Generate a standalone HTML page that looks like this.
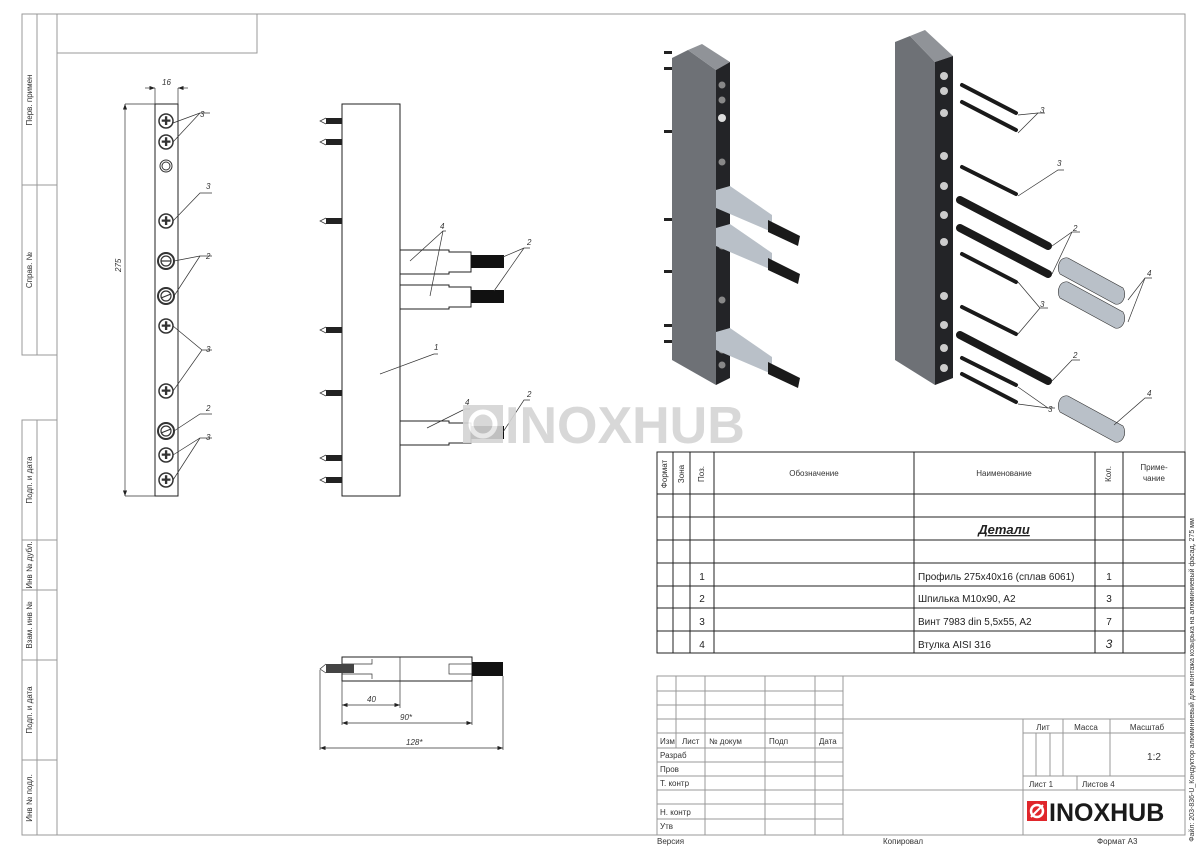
<!DOCTYPE html>
<html><head><meta charset="utf-8"><style>
html,body{margin:0;padding:0;background:#fff;}
svg{display:block;font-family:"Liberation Sans","DejaVu Sans",sans-serif;}
.t{font-size:8px;fill:#333;}
.l{stroke:#999;stroke-width:1;fill:none;}
.k{stroke:#222;stroke-width:1;fill:none;}
.d{stroke:#333;stroke-width:0.7;fill:none;}
</style></head><body>
<svg width="1200" height="848" viewBox="0 0 1200 848" xmlns="http://www.w3.org/2000/svg">
<defs>
<marker id="a" markerWidth="8" markerHeight="6" refX="8" refY="3" orient="auto-start-reverse"><path d="M0,0 L8,3 L0,6z" fill="#222"/></marker>
</defs>
<!-- frame -->
<rect x="57" y="14" width="1128" height="821" class="l"/>
<rect x="57" y="14" width="200" height="39" class="l"/>
<g class="l">
<rect x="22" y="14" width="35" height="341"/><line x1="37" y1="14" x2="37" y2="355"/><line x1="22" y1="185" x2="57" y2="185"/>
<rect x="22" y="420" width="35" height="415"/><line x1="37" y1="420" x2="37" y2="835"/>
<line x1="22" y1="540" x2="57" y2="540"/><line x1="22" y1="590" x2="57" y2="590"/><line x1="22" y1="660" x2="57" y2="660"/><line x1="22" y1="760" x2="57" y2="760"/>
</g>
<g class="t" font-size="7">
<text transform="translate(32,100) rotate(-90)" text-anchor="middle">Перв. примен</text>
<text transform="translate(32,270) rotate(-90)" text-anchor="middle">Справ. №</text>
<text transform="translate(32,480) rotate(-90)" text-anchor="middle">Подп. и дата</text>
<text transform="translate(32,565) rotate(-90)" text-anchor="middle">Инв № дубл.</text>
<text transform="translate(32,625) rotate(-90)" text-anchor="middle">Взам. инв №</text>
<text transform="translate(32,710) rotate(-90)" text-anchor="middle">Подп. и дата</text>
<text transform="translate(32,798) rotate(-90)" text-anchor="middle">Инв № подл.</text>
<text transform="translate(1194,680) rotate(-90)" text-anchor="middle" font-size="7">Файл: 203-836-U_Кондуктор алюминиевый для монтажа козырька на алюминиевый фасад, 275 мм</text>
</g>

<!-- front view -->
<rect x="155" y="104" width="23" height="392" class="k"/>
<line x1="125" y1="104" x2="155" y2="104" class="d"/><line x1="125" y1="496" x2="155" y2="496" class="d"/>
<line x1="125" y1="104" x2="125" y2="496" class="d" marker-start="url(#a)" marker-end="url(#a)"/>
<text x="121" y="272" class="t" font-size="10" transform="rotate(-90 121 272)" font-style="italic">275</text>
<line x1="155" y1="88" x2="155" y2="104" class="d"/><line x1="178" y1="88" x2="178" y2="104" class="d"/>
<line x1="145" y1="88" x2="155" y2="88" class="d" marker-end="url(#a)"/><line x1="188" y1="88" x2="178" y2="88" class="d" marker-end="url(#a)"/>
<text x="162" y="85" class="t" font-style="italic">16</text>
<g stroke="#333" fill="none">
<g stroke-width="1.5"><circle cx="166" cy="121" r="7"/><circle cx="166" cy="142" r="7"/><circle cx="166" cy="221" r="7"/><circle cx="166" cy="326" r="7"/><circle cx="166" cy="391" r="7"/><circle cx="166" cy="455" r="7"/><circle cx="166" cy="480" r="7"/></g>
<circle cx="166" cy="166" r="6"/><circle cx="166" cy="166" r="4"/>
<g stroke-width="2"><circle cx="166" cy="261" r="8"/><circle cx="166" cy="296" r="8"/><circle cx="166" cy="431" r="8"/></g>
<g stroke-width="1.2"><circle cx="166" cy="261" r="5"/><circle cx="166" cy="296" r="5"/><circle cx="166" cy="431" r="5"/>
<line x1="161" y1="261" x2="171" y2="261"/><line x1="161" y1="298" x2="171" y2="294"/><line x1="161" y1="433" x2="171" y2="429"/></g>
</g>
<g font-size="12" fill="#333" text-anchor="middle">
<text x="166" y="125">✚</text><text x="166" y="146">✚</text><text x="166" y="225">✚</text><text x="166" y="330">✚</text><text x="166" y="395">✚</text><text x="166" y="459">✚</text><text x="166" y="484">✚</text>
</g>
<g class="d">
<polyline points="173,123 200,113 210,113"/><line x1="173" y1="142" x2="200" y2="113"/>
<polyline points="173,221 200,193 212,193"/>
<polyline points="174,261 200,256 212,256"/><line x1="174" y1="296" x2="200" y2="256"/>
<polyline points="173,326 202,350 212,350"/><line x1="173" y1="391" x2="202" y2="350"/>
<polyline points="174,431 200,414 212,414"/>
<polyline points="173,455 200,438 212,438"/><line x1="173" y1="480" x2="200" y2="438"/>
</g>
<g class="t" font-size="10" font-style="italic">
<text x="200" y="117">3</text><text x="206" y="189">3</text><text x="206" y="259">2</text><text x="206" y="352">3</text><text x="206" y="411">2</text><text x="206" y="440">3</text>
</g>

<!-- side view -->
<rect x="342" y="104" width="58" height="392" class="k"/>
<g fill="#222">
<rect x="326" y="118" width="16" height="6"/><rect x="326" y="139" width="16" height="6"/><rect x="326" y="218" width="16" height="6"/><rect x="326" y="327" width="16" height="6"/><rect x="326" y="390" width="16" height="6"/><rect x="326" y="455" width="16" height="6"/><rect x="326" y="477" width="16" height="6"/>
</g>
<g class="d"><path d="M326,118 l-6,3 6,3"/><path d="M326,139 l-6,3 6,3"/><path d="M326,218 l-6,3 6,3"/><path d="M326,327 l-6,3 6,3"/><path d="M326,390 l-6,3 6,3"/><path d="M326,455 l-6,3 6,3"/><path d="M326,477 l-6,3 6,3"/></g>
<g class="k" stroke-width="0.8">
<path d="M400,250 h49 v2 h22 v20 h-22 v2 h-49"/>
<path d="M400,285 h49 v2 h22 v20 h-22 v2 h-49"/>
<path d="M400,421 h49 v2 h22 v20 h-22 v2 h-49"/>
</g>
<g fill="#111"><rect x="471" y="255" width="33" height="13"/><rect x="471" y="290" width="33" height="13"/><rect x="471" y="426" width="33" height="13"/></g>
<g class="d">
<polyline points="410,261 443,231 446,231"/><line x1="430" y1="296" x2="443" y2="231"/>
<polyline points="503,257 524,248 530,248"/><line x1="494" y1="291" x2="524" y2="248"/>
<polyline points="380,374 434,354 438,354"/>
<polyline points="427,428 465,409 470,409"/>
<polyline points="503,432 524,400 530,400"/>
</g>
<g class="t" font-size="10" font-style="italic"><text x="440" y="229">4</text><text x="527" y="245">2</text><text x="434" y="350">1</text><text x="465" y="405">4</text><text x="527" y="397">2</text></g>

<!-- watermark -->
<g opacity="0.9">
<rect x="463" y="405" width="40" height="38" fill="#d4d4d4"/>
<circle cx="483" cy="424" r="12" fill="none" stroke="#fff" stroke-width="5"/>
<text x="505" y="443" font-size="52" font-weight="bold" fill="#d4d4d4">INOXHUB</text>
</g>

<!-- bottom view -->
<rect x="342" y="657" width="130" height="24" class="k" stroke-width="0.8"/>
<line x1="400" y1="657" x2="400" y2="681" class="d"/>
<path d="M342,664 h30 v-5 M342,674 h30 v5" class="d"/>
<rect x="449" y="664" width="23" height="10" class="d"/>
<rect x="326" y="664" width="28" height="9" fill="#444"/><path d="M326,664 l-6,5 6,4" class="d"/>
<rect x="472" y="662" width="31" height="14" fill="#111"/>
<g class="d"><line x1="342" y1="681" x2="342" y2="725"/><line x1="400" y1="681" x2="400" y2="708"/><line x1="472" y1="681" x2="472" y2="725"/><line x1="320" y1="670" x2="320" y2="750"/><line x1="503" y1="676" x2="503" y2="750"/></g>
<g class="d"><line x1="342" y1="705" x2="400" y2="705" marker-start="url(#a)" marker-end="url(#a)"/><line x1="342" y1="723" x2="472" y2="723" marker-start="url(#a)" marker-end="url(#a)"/><line x1="320" y1="748" x2="503" y2="748" marker-start="url(#a)" marker-end="url(#a)"/></g>
<g class="t" font-size="10" font-style="italic"><text x="367" y="702">40</text><text x="400" y="720">90*</text><text x="406" y="745">128*</text></g>

<!-- isometric left -->
<g>
<polygon points="672,58 688,50 716,70 716,385 672,360" fill="#6e7176"/>
<polygon points="688,50 702,44 730,62 716,70" fill="#909398"/>
<polygon points="716,70 730,62 730,378 716,385" fill="#232427"/>
<g fill="#888"><circle cx="722" cy="85" r="3.5"/><circle cx="722" cy="100" r="3.5"/><circle cx="722" cy="118" r="4" fill="#ddd"/><circle cx="722" cy="162" r="3.5"/><circle cx="722" cy="246" r="3.5"/><circle cx="722" cy="300" r="3.5"/><circle cx="722" cy="350" r="3.5"/><circle cx="722" cy="365" r="3.5"/></g>
<g fill="#222"><rect x="664" y="51" width="8" height="3"/><rect x="664" y="67" width="8" height="3"/><rect x="664" y="130" width="8" height="3"/><rect x="664" y="218" width="8" height="3"/><rect x="664" y="270" width="8" height="3"/><rect x="664" y="324" width="8" height="3"/><rect x="664" y="340" width="8" height="3"/></g>
<g>
<polygon points="716,190 730,186 772,215 772,232 716,208" fill="#b9c0c8"/>
<polygon points="716,228 730,224 772,253 772,270 716,246" fill="#b9c0c8"/>
<polygon points="716,332 730,328 772,357 772,374 716,350" fill="#b9c0c8"/>
<polygon points="768,220 800,236 798,246 768,232" fill="#1a1a1a"/>
<polygon points="768,258 800,274 798,284 768,270" fill="#1a1a1a"/>
<polygon points="768,362 800,378 798,388 768,374" fill="#1a1a1a"/>
</g>
</g>
<!-- isometric right -->
<g>
<polygon points="895,42 910,36 935,62 935,385 895,360" fill="#6e7176"/>
<polygon points="910,36 925,30 953,56 935,62" fill="#909398"/>
<polygon points="935,62 953,56 953,378 935,385" fill="#232427"/>
<g fill="#ccc"><circle cx="944" cy="76" r="4"/><circle cx="944" cy="91" r="4"/><circle cx="944" cy="113" r="4"/><circle cx="944" cy="156" r="4"/><circle cx="944" cy="186" r="4"/><circle cx="944" cy="215" r="4"/><circle cx="944" cy="242" r="4"/><circle cx="944" cy="296" r="4"/><circle cx="944" cy="325" r="4"/><circle cx="944" cy="348" r="4"/><circle cx="944" cy="368" r="4"/></g>
<g stroke="#1a1a1a" stroke-linecap="round">
<g stroke-width="4"><line x1="962" y1="85" x2="1016" y2="113"/><line x1="962" y1="102" x2="1016" y2="130"/><line x1="962" y1="167" x2="1016" y2="194"/><line x1="962" y1="254" x2="1016" y2="282"/><line x1="962" y1="307" x2="1016" y2="334"/><line x1="962" y1="358" x2="1016" y2="385"/><line x1="962" y1="374" x2="1016" y2="402"/></g>
<g stroke-width="8"><line x1="960" y1="200" x2="1048" y2="246"/><line x1="960" y1="228" x2="1048" y2="274"/><line x1="960" y1="335" x2="1048" y2="381"/></g>
</g>
<g fill="#b9c0c8" stroke="#333" stroke-width="0.6">
<path d="M1068,258 l55,30 a8,10 0 0 1 -8,16 l-55,-30 a8,10 0 0 1 8,-16z"/>
<path d="M1068,282 l55,30 a8,10 0 0 1 -8,16 l-55,-30 a8,10 0 0 1 8,-16z"/>
<path d="M1068,396 l55,30 a8,10 0 0 1 -8,16 l-55,-30 a8,10 0 0 1 8,-16z"/>
</g>
<g class="d">
<polyline points="1018,115 1038,113 1045,113"/><line x1="1018" y1="133" x2="1038" y2="113"/>
<polyline points="1018,196 1058,170 1064,170"/>
<polyline points="1052,246 1072,232 1080,232"/><line x1="1052" y1="274" x2="1072" y2="232"/>
<polyline points="1018,282 1040,308 1048,308"/><line x1="1018" y1="334" x2="1040" y2="308"/>
<polyline points="1052,381 1072,360 1080,360"/>
<polyline points="1018,387 1048,408 1055,408"/><line x1="1018" y1="404" x2="1048" y2="408"/>
<polyline points="1128,300 1145,278 1152,278"/><line x1="1128" y1="322" x2="1145" y2="278"/>
<polyline points="1114,425 1145,398 1152,398"/>
</g>
<g class="t" font-size="10" font-style="italic"><text x="1040" y="113">3</text><text x="1057" y="166">3</text><text x="1073" y="231">2</text><text x="1040" y="307">3</text><text x="1073" y="358">2</text><text x="1048" y="412">3</text><text x="1147" y="276">4</text><text x="1147" y="396">4</text></g>

<!-- spec table -->
<g class="k" stroke-width="0.8">
<rect x="657" y="452" width="528" height="201"/>
<line x1="673" y1="452" x2="673" y2="653"/><line x1="690" y1="452" x2="690" y2="653"/><line x1="714" y1="452" x2="714" y2="653"/><line x1="914" y1="452" x2="914" y2="653"/><line x1="1095" y1="452" x2="1095" y2="653"/><line x1="1123" y1="452" x2="1123" y2="653"/>
<line x1="657" y1="494" x2="1185" y2="494"/><line x1="657" y1="517" x2="1185" y2="517"/><line x1="657" y1="540" x2="1185" y2="540"/><line x1="657" y1="563" x2="1185" y2="563"/><line x1="657" y1="586" x2="1185" y2="586"/><line x1="657" y1="608" x2="1185" y2="608"/><line x1="657" y1="631" x2="1185" y2="631"/>
</g>
<g class="t" font-size="7">
<text transform="translate(667,474) rotate(-90)" text-anchor="middle">Формат</text>
<text transform="translate(684,474) rotate(-90)" text-anchor="middle">Зона</text>
<text transform="translate(704,474) rotate(-90)" text-anchor="middle">Поз.</text>
<text transform="translate(1111,474) rotate(-90)" text-anchor="middle">Кол.</text>
<text x="814" y="476" text-anchor="middle">Обозначение</text>
<text x="1004" y="476" text-anchor="middle">Наименование</text>
<text x="1154" y="470" text-anchor="middle">Приме-</text><text x="1154" y="481" text-anchor="middle">чание</text>
</g>
<text x="1004" y="534" text-anchor="middle" font-size="13" font-style="italic" font-weight="bold" text-decoration="underline" fill="#222">Детали</text>
<g font-size="10" fill="#222">
<text x="702" y="580" text-anchor="middle">1</text><text x="702" y="602" text-anchor="middle">2</text><text x="702" y="625" text-anchor="middle">3</text><text x="702" y="648" text-anchor="middle">4</text>
<text x="918" y="580">Профиль 275x40x16 (сплав 6061)</text><text x="918" y="602">Шпилька  М10х90, А2</text><text x="918" y="625">Винт 7983 din 5,5x55, A2</text><text x="918" y="648">Втулка AISI 316</text>
<text x="1109" y="580" text-anchor="middle">1</text><text x="1109" y="602" text-anchor="middle">3</text><text x="1109" y="625" text-anchor="middle">7</text><text x="1109" y="648" text-anchor="middle" font-style="italic" font-size="12">3</text>
</g>

<!-- title block -->
<g class="l">
<rect x="657" y="676" width="528" height="159"/>
<line x1="676" y1="676" x2="676" y2="748"/><line x1="705" y1="676" x2="705" y2="835"/><line x1="765" y1="676" x2="765" y2="835"/><line x1="815" y1="676" x2="815" y2="835"/><line x1="843" y1="676" x2="843" y2="835"/>
<line x1="657" y1="691" x2="843" y2="691"/><line x1="657" y1="705" x2="843" y2="705"/><line x1="657" y1="719" x2="1185" y2="719"/><line x1="657" y1="733" x2="843" y2="733"/><line x1="657" y1="748" x2="843" y2="748"/><line x1="657" y1="762" x2="843" y2="762"/><line x1="657" y1="776" x2="843" y2="776"/><line x1="657" y1="790" x2="1185" y2="790"/><line x1="657" y1="804" x2="843" y2="804"/><line x1="657" y1="819" x2="843" y2="819"/>
<line x1="1023" y1="719" x2="1023" y2="835"/><line x1="1023" y1="733" x2="1185" y2="733"/><line x1="1023" y1="776" x2="1185" y2="776"/>
<line x1="1063" y1="719" x2="1063" y2="776"/><line x1="1110" y1="719" x2="1110" y2="776"/><line x1="1036" y1="733" x2="1036" y2="776"/><line x1="1050" y1="733" x2="1050" y2="776"/><line x1="1077" y1="776" x2="1077" y2="790"/>
</g>
<g class="t" font-size="7">
<text x="660" y="744">Изм</text><text x="682" y="744">Лист</text><text x="709" y="744">№ докум</text><text x="769" y="744">Подп</text><text x="819" y="744">Дата</text>
<text x="660" y="758">Разраб</text><text x="660" y="772">Пров</text><text x="660" y="786">Т. контр</text><text x="660" y="815">Н. контр</text><text x="660" y="829">Утв</text>
<text x="1043" y="730" text-anchor="middle">Лит</text><text x="1086" y="730" text-anchor="middle">Масса</text><text x="1147" y="730" text-anchor="middle">Масштаб</text>
<text x="1029" y="787">Лист 1</text><text x="1082" y="787">Листов 4</text>
<text x="657" y="844">Версия</text><text x="883" y="844">Копировал</text><text x="1097" y="844">Формат А3</text>
</g>
<text x="1154" y="760" font-size="10" fill="#333" text-anchor="middle">1:2</text>
<rect x="1027" y="801" width="20" height="20" fill="#e0262b"/>
<circle cx="1037" cy="811" r="6" fill="none" stroke="#fff" stroke-width="2.5"/>
<line x1="1031" y1="817" x2="1043" y2="805" stroke="#fff" stroke-width="2"/>
<text x="1049" y="821" font-size="25" font-weight="bold" fill="#1a1a1a">INOXHUB</text>
</svg>
</body></html>
